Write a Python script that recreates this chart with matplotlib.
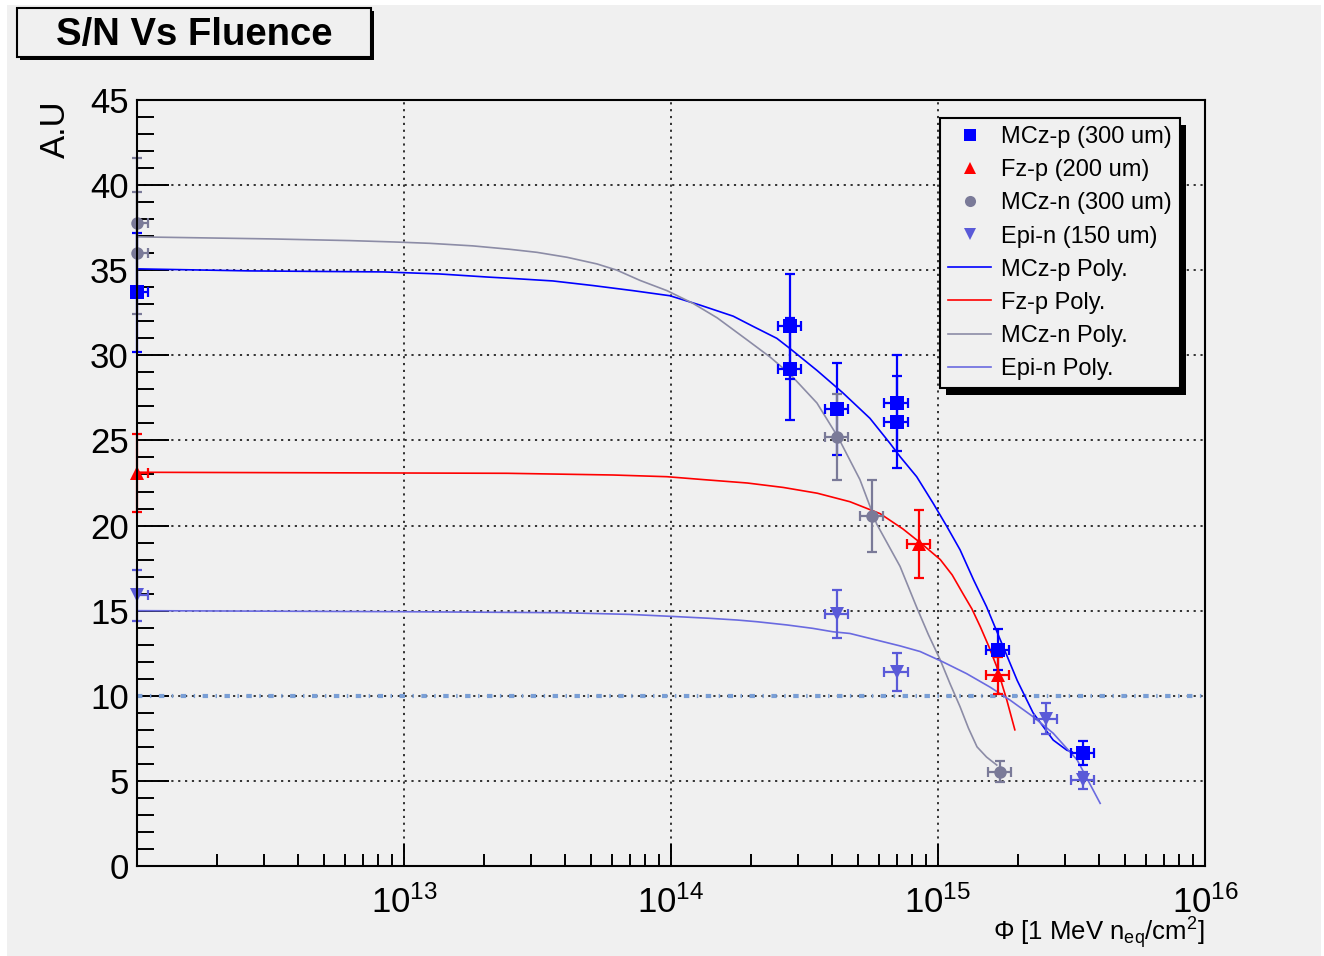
import matplotlib
matplotlib.use("Agg")
import matplotlib.pyplot as plt
from matplotlib.lines import Line2D
from matplotlib.patches import Rectangle
from matplotlib.ticker import LogLocator, MultipleLocator, NullFormatter

plt.rcParams['font.family'] = ['Liberation Sans', 'DejaVu Sans']
plt.rcParams['mathtext.fontset'] = 'custom'
plt.rcParams['mathtext.rm'] = 'Liberation Sans'
plt.rcParams['mathtext.it'] = 'Liberation Sans:italic'
plt.rcParams['mathtext.bf'] = 'Liberation Sans:bold'

BG = '#f0f0f0'

# ---- measured points: fluence [1 MeV neq/cm2], S/N, error ----
mczp_f = [1e12, 2.8e14, 2.8e14, 4.2e14, 7.0e14, 7.0e14, 1.68e15, 3.5e15]
mczp_sn = [33.7, 31.7, 29.2, 26.85, 27.2, 26.1, 12.7, 6.65]
mczp_err = [3.5, 3.1, 3.0, 2.7, 2.8, 2.7, 1.2, 0.7]

fzp_f = [1e12, 8.5e14, 1.68e15]
fzp_sn = [23.1, 18.9, 11.2]
fzp_err = [2.3, 2.0, 1.1]

mczn_f = [1e12, 1e12, 4.2e14, 5.66e14, 1.71e15]
mczn_sn = [37.8, 36.0, 25.2, 20.56, 5.55]
mczn_err = [3.8, 3.6, 2.5, 2.1, 0.6]

epin_f = [1e12, 4.2e14, 7.0e14, 2.54e15, 3.5e15]
epin_sn = [15.9, 14.8, 11.4, 8.65, 5.05]
epin_err = [1.5, 1.4, 1.1, 0.9, 0.5]

# relative fluence uncertainty
FLUENCE_REL_ERR = 0.1

# ---- polynomial fits, sampled ----
mczp_fit_f = [1e12, 2.65e12, 8.4e12, 1.36e13, 2.05e13, 2.65e13, 3.61e13, 5.1e13,
              7.21e13, 9.91e13, 1.28e14, 1.71e14, 2.03e14, 2.49e14, 2.79e14, 3.53e14,
              4.4e14, 5.56e14, 6.61e14, 7.21e14, 8.32e14, 9.6e14, 1.08e15, 1.21e15,
              1.36e15, 1.52e15, 1.71e15, 1.98e15, 2.27e15, 2.70e15, 3.04e15, 3.18e15]
mczp_fit_sn = [35.08, 34.96, 34.9, 34.78, 34.6, 34.5, 34.37, 34.1,
               33.8, 33.5, 32.96, 32.3, 31.7, 31.0, 30.4, 29.1,
               27.8, 26.3, 24.83, 24.05, 22.87, 21.3, 19.94, 18.57,
               16.8, 15.23, 13.3, 10.9, 9.0, 7.4, 6.8, 6.7]

fzp_fit_f = [1e12, 2.43e13, 6.06e13, 9.66e13, 1.32e14, 1.93e14, 2.63e14, 3.53e14,
             4.68e14, 6.07e14, 7.39e14, 8.79e14, 1.02e15, 1.13e15, 1.24e15, 1.34e15,
             1.44e15, 1.55e15, 1.66e15, 1.81e15, 1.94e15]
fzp_fit_sn = [23.13, 23.07, 22.97, 22.87, 22.7, 22.5, 22.24, 21.9,
              21.4, 20.7, 19.8, 18.86, 18.0, 17.1, 16.0, 15.1,
              14.06, 12.9, 11.7, 9.75, 8.0]

mczn_fit_f = [1e12, 3.15e12, 6.28e12, 9.18e12, 1.25e13, 1.81e13, 2.49e13, 3.15e13,
              4.08e13, 5.28e13, 6.28e13, 7.66e13, 9.66e13, 1.21e14, 1.49e14, 1.93e14,
              2.35e14, 2.79e14, 3.52e14, 4.22e14, 5.10e14, 5.89e14, 7.21e14, 8.32e14,
              9.2e14, 1.02e15, 1.11e15, 1.21e15, 1.30e15, 1.40e15, 1.52e15, 1.66e15]
mczn_fit_sn = [36.96, 36.84, 36.74, 36.66, 36.58, 36.43, 36.23, 36.05,
               35.76, 35.37, 35.0, 34.4, 33.8, 33.05, 32.2, 30.9,
               29.9, 28.9, 27.2, 25.2, 22.7, 20.1, 17.6, 15.2,
               13.6, 12.1, 10.7, 9.35, 8.1, 7.0, 6.4, 5.93]

epin_fit_f = [1e12, 9.66e12, 3.94e13, 7.02e13, 1.08e14, 1.40e14, 1.77e14, 2.10e14,
              2.72e14, 3.40e14, 4.04e14, 4.68e14, 7.21e14, 8.57e14, 1.04e15, 1.28e15,
              1.57e15, 1.86e15, 2.27e15, 2.70e15, 3.32e15, 4.05e15]
epin_fit_sn = [15.0, 14.94, 14.88, 14.78, 14.64, 14.55, 14.45, 14.35,
               14.16, 13.96, 13.76, 13.66, 12.93, 12.6, 12.0, 11.3,
               10.5, 9.75, 8.77, 7.8, 6.23, 3.68]

SN_LIMIT = 10

fig = plt.figure(figsize=(13.24, 9.56), dpi=100, facecolor='white')
fig.add_artist(Rectangle((7 / 1324, 0), 1314 / 1324, 951 / 956,
                         facecolor=BG, edgecolor='none', zorder=-10))

ax = fig.add_axes([137 / 1324, 90 / 956, 1068 / 1324, 766 / 956])
ax.set_facecolor('none')
ax.set_xscale('log')
ax.set_xlim(1e12, 1e16)
ax.set_ylim(0, 45)

ax.grid(True, which='major', color='#222222', linestyle=(0, (1.2, 2.6)), linewidth=1.3)
ax.axhline(SN_LIMIT, color='#7a9fd6', linewidth=3.0, linestyle=(0, (1.3, 1.8, 0.35, 1.8)))

# fits
ax.plot(mczp_fit_f, mczp_fit_sn, color='#0000ff', lw=1.2)
ax.plot(fzp_fit_f, fzp_fit_sn, color='#ff0000', lw=1.2)
ax.plot(mczn_fit_f, mczn_fit_sn, color='#8c8ca6', lw=1.2)
ax.plot(epin_fit_f, epin_fit_sn, color='#6a6ae0', lw=1.2)


def draw_points(f, sn, err, color, marker, ms):
    xerr = [x * FLUENCE_REL_ERR for x in f]
    line, caps, bars = ax.errorbar(f, sn, yerr=err, xerr=xerr, fmt=marker, color=color,
                                   elinewidth=1.6, capsize=3.4, capthick=1.6)
    line.set_markersize(ms)
    line.set_markeredgewidth(0)
    # markers and vertical bars are drawn over the frame, as ROOT does
    line.set_clip_on(False)
    bars[1].set_clip_on(False)
    for c in caps[2:]:
        c.set_clip_on(False)


draw_points(mczp_f, mczp_sn, mczp_err, '#0000ff', 's', 10)
draw_points(fzp_f, fzp_sn, fzp_err, '#ff0000', '^', 10)
draw_points(mczn_f, mczn_sn, mczn_err, '#7a7a98', 'o', 9)
draw_points(epin_f, epin_sn, epin_err, '#5a5ad8', 'v', 10)

# axes styling
for s in ax.spines.values():
    s.set_linewidth(1.5)
ax.set_xticks([1e13, 1e14, 1e15, 1e16])
ax.xaxis.set_minor_locator(LogLocator(base=10, subs=range(2, 10), numticks=20))
ax.xaxis.set_minor_formatter(NullFormatter())
ax.yaxis.set_major_locator(MultipleLocator(5))
ax.yaxis.set_minor_locator(MultipleLocator(1))
ax.tick_params(axis='x', which='major', direction='in', length=16, width=1.4,
               labelsize=25, pad=14, top=False)
ax.tick_params(axis='x', which='minor', direction='in', length=8.5, width=1.4, top=False)
ax.tick_params(axis='y', which='major', direction='in', length=23, width=1.4,
               labelsize=25, pad=6, right=False)
ax.tick_params(axis='y', which='minor', direction='in', length=12, width=1.4, right=False)

ax.set_ylabel('A.U', fontsize=25, loc='top')
ax.yaxis.set_label_coords(-0.061, 1.0)
ax.set_xlabel(r'$\Phi$ [1 MeV n$_{\rm eq}$/cm$^{2}$]', fontsize=18.5, loc='right')
ax.xaxis.set_label_coords(1.0, -0.064)

# legend
handles = [
    Line2D([], [], ls='none', marker='s', color='#0000ff', ms=8, mew=0),
    Line2D([], [], ls='none', marker='^', color='#ff0000', ms=8, mew=0),
    Line2D([], [], ls='none', marker='o', color='#7a7a98', ms=8, mew=0),
    Line2D([], [], ls='none', marker='v', color='#5a5ad8', ms=8, mew=0),
    Line2D([], [], color='#0000ff', lw=1.2),
    Line2D([], [], color='#ff0000', lw=1.2),
    Line2D([], [], color='#8c8ca6', lw=1.2),
    Line2D([], [], color='#6a6ae0', lw=1.2),
]
labels = ['MCz-p (300 um)', 'Fz-p (200 um)', 'MCz-n (300 um)', 'Epi-n (150 um)',
          'MCz-p Poly.', 'Fz-p Poly.', 'MCz-n Poly.', 'Epi-n Poly.']
leg = fig.legend(handles, labels, loc='upper left', bbox_to_anchor=(940 / 1324, 1 - 118 / 956),
                 fontsize=17, frameon=True, fancybox=False, borderaxespad=0,
                 borderpad=0.35, handlelength=1.8, handletextpad=0.42, labelspacing=0.47)
leg.get_frame().set_edgecolor('black')
leg.get_frame().set_linewidth(1.5)
leg.get_frame().set_facecolor(BG)
leg.get_frame().set_alpha(1)
leg.set_zorder(5)

fig.canvas.draw()
bb = leg.get_window_extent()
W, H = fig.bbox.width, fig.bbox.height
fig.add_artist(Rectangle(((bb.x0 + 6) / W, (bb.y0 - 7) / H), bb.width / W, bb.height / H,
                         facecolor='black', edgecolor='none', zorder=4))

# title box with shadow
fig.add_artist(Rectangle((20 / 1324, 1 - 60 / 956), 354 / 1324, 49 / 956,
                         facecolor='black', edgecolor='none', zorder=4))
fig.add_artist(Rectangle((17 / 1324, 1 - 57 / 956), 354 / 1324, 49 / 956,
                         facecolor=BG, edgecolor='black', linewidth=1.5, zorder=5))
fig.text(194 / 1324, 1 - 35 / 956, 'S/N Vs Fluence', fontsize=27.5, fontweight='bold',
         ha='center', va='center', zorder=6)

fig.savefig('out.png', dpi=100, facecolor=fig.get_facecolor())
